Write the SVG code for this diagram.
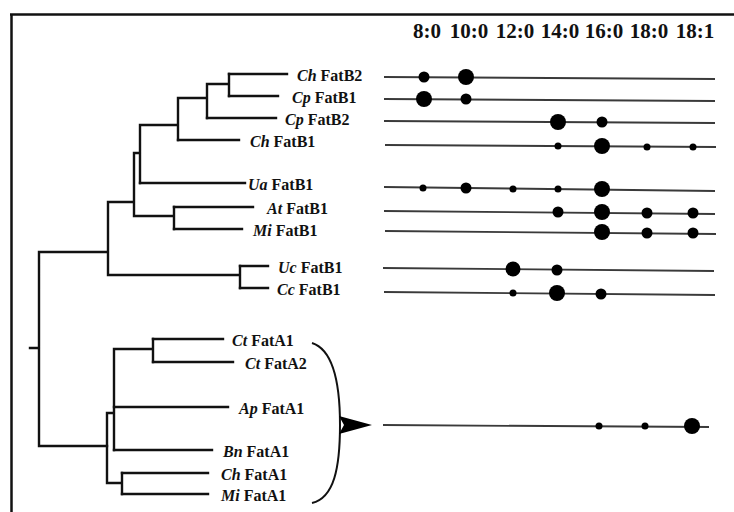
<svg xmlns="http://www.w3.org/2000/svg" width="734" height="512" viewBox="0 0 734 512">
<style>
.tree{fill:none;stroke:#111;stroke-width:2.4;stroke-linecap:square}
.row{stroke:#3a3a3a;stroke-width:1.8}
.dot{fill:#000}
.lbl{font-family:"Liberation Serif","Times New Roman",serif;font-size:16px;font-weight:bold;fill:#111}
.sp{font-style:italic}
.hdr{font-family:"Liberation Serif","Times New Roman",serif;font-size:21px;font-weight:bold;fill:#111;text-anchor:middle}
</style>
<rect width="734" height="512" fill="#fff"/>
<g id="frame" fill="none" stroke="#111" stroke-width="2.5">
<path d="M10,14.5 H734"/>
<path d="M11.5,14 V512"/>
</g>
<g id="header">
<text class="hdr" x="427" y="38">8:0</text>
<text class="hdr" x="469" y="38">10:0</text>
<text class="hdr" x="515" y="38">12:0</text>
<text class="hdr" x="560" y="38">14:0</text>
<text class="hdr" x="604" y="38">16:0</text>
<text class="hdr" x="649" y="38">18:0</text>
<text class="hdr" x="695" y="38">18:1</text>
</g>
<g id="connectors" class="tree">
<path d="M229,74 V96 M207,84 H229 M207,84 V118 M178,98 H207 M178,98 V140 M140,125 H178 M140,125 V183 M134,153 H140 M134,153 V216 M134,216 H174 M174,207 V229 M108,202 H134 M108,202 V275 M108,275 H240 M240,266 V288 M39,252 H108 M39,252 V446 M30,348 H39 M39,446 H107"/>
<path d="M229,74 H287 M229,96 H278 M207,118 H276 M178,140 H239 M140,183 H245 M174,207 H253 M174,229 H242 M240,266 H268 M240,288 H268"/>
<path d="M107,413 V483 M107,413 H114 M114,349 V450 M114,349 H153 M153,339 V362 M107,483 H122 M122,473 V494"/>
<path d="M153,339 H223 M153,362 H233 M114,407 H228 M114,450 H212 M122,473 H208 M122,494 H208"/>
</g>
<g id="n-chfatb2">
<text class="lbl" x="297" y="81"><tspan class="sp">Ch</tspan> FatB2</text>
<line class="row" x1="384" y1="77" x2="715" y2="79"/>
<circle class="dot" cx="424" cy="77" r="5.5"/><circle class="dot" cx="466" cy="77" r="8"/>
</g>
<g id="n-cpfatb1">
<text class="lbl" x="292" y="103"><tspan class="sp">Cp</tspan> FatB1</text>
<line class="row" x1="384" y1="99" x2="715" y2="101"/>
<circle class="dot" cx="424" cy="99" r="8"/><circle class="dot" cx="466" cy="99" r="5.5"/>
</g>
<g id="n-cpfatb2">
<text class="lbl" x="285" y="125"><tspan class="sp">Cp</tspan> FatB2</text>
<line class="row" x1="384" y1="121" x2="715" y2="123"/>
<circle class="dot" cx="558" cy="122" r="8"/><circle class="dot" cx="602" cy="122" r="5.5"/>
</g>
<g id="n-chfatb1">
<text class="lbl" x="250" y="147"><tspan class="sp">Ch</tspan> FatB1</text>
<line class="row" x1="385" y1="145" x2="716" y2="147"/>
<circle class="dot" cx="558" cy="146" r="3.5"/><circle class="dot" cx="602" cy="146" r="8"/><circle class="dot" cx="647" cy="147" r="3.5"/><circle class="dot" cx="693" cy="147" r="3.5"/>
</g>
<g id="n-uafatb1">
<text class="lbl" x="248" y="190"><tspan class="sp">Ua</tspan> FatB1</text>
<line class="row" x1="384" y1="187" x2="715" y2="191"/>
<circle class="dot" cx="423" cy="188" r="3.5"/><circle class="dot" cx="466" cy="188" r="5.5"/><circle class="dot" cx="513" cy="189" r="3.5"/><circle class="dot" cx="558" cy="189" r="3.5"/><circle class="dot" cx="602" cy="189" r="8"/>
</g>
<g id="n-atfatb1">
<text class="lbl" x="267" y="214"><tspan class="sp">At</tspan> FatB1</text>
<line class="row" x1="384" y1="211" x2="715" y2="214"/>
<circle class="dot" cx="558" cy="212" r="5.5"/><circle class="dot" cx="602" cy="212" r="8"/><circle class="dot" cx="647" cy="213" r="5.5"/><circle class="dot" cx="693" cy="213" r="5.5"/>
</g>
<g id="n-mifatb1">
<text class="lbl" x="253" y="236"><tspan class="sp">Mi</tspan> FatB1</text>
<line class="row" x1="385" y1="231" x2="716" y2="234"/>
<circle class="dot" cx="602" cy="232" r="8"/><circle class="dot" cx="647" cy="233" r="5.5"/><circle class="dot" cx="693" cy="233" r="5.5"/>
</g>
<g id="n-ucfatb1">
<text class="lbl" x="278" y="273"><tspan class="sp">Uc</tspan> FatB1</text>
<line class="row" x1="383" y1="268" x2="714" y2="271"/>
<circle class="dot" cx="513" cy="269" r="7.5"/><circle class="dot" cx="557" cy="270" r="5.5"/>
</g>
<g id="n-ccfatb1">
<text class="lbl" x="277" y="295"><tspan class="sp">Cc</tspan> FatB1</text>
<line class="row" x1="384" y1="292" x2="715" y2="295"/>
<circle class="dot" cx="513" cy="293" r="3.5"/><circle class="dot" cx="557" cy="293" r="8"/><circle class="dot" cx="601" cy="294" r="5.5"/>
</g>
<g id="n-ctfata1"><text class="lbl" x="232" y="346"><tspan class="sp">Ct</tspan> FatA1</text></g>
<g id="n-ctfata2"><text class="lbl" x="245" y="369"><tspan class="sp">Ct</tspan> FatA2</text></g>
<g id="n-apfata1"><text class="lbl" x="239" y="414"><tspan class="sp">Ap</tspan> FatA1</text></g>
<g id="n-bnfata1"><text class="lbl" x="223" y="457"><tspan class="sp">Bn</tspan> FatA1</text></g>
<g id="n-chfata1"><text class="lbl" x="221" y="480"><tspan class="sp">Ch</tspan> FatA1</text></g>
<g id="n-mifata1"><text class="lbl" x="221" y="501"><tspan class="sp">Mi</tspan> FatA1</text></g>
<g id="n-fata-group">
<path d="M312,343 C334,350 340,385 340,425 C340,468 334,498 312,503" fill="none" stroke="#111" stroke-width="2"/>
<polygon points="339,416 372,425 339,434 344,425" fill="#000"/>
<line class="row" x1="383" y1="425" x2="709" y2="427"/>
<circle class="dot" cx="599" cy="426" r="3.5"/><circle class="dot" cx="645" cy="426" r="3.5"/><circle class="dot" cx="692" cy="426" r="8"/>
</g>
</svg>
